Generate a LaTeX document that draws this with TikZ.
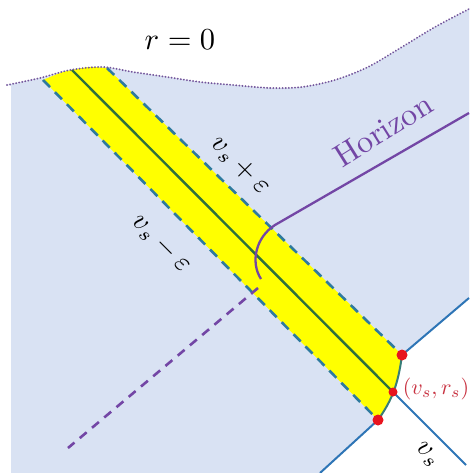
\documentclass[tikz,border=0pt]{standalone}
\definecolor{bgblue}{RGB}{217,226,243}
\definecolor{stripyellow}{RGB}{255,255,0}
\definecolor{centergreen}{RGB}{46,112,62}
\definecolor{edgeteal}{RGB}{46,122,158}
\definecolor{crossblue}{RGB}{46,117,182}
\definecolor{curveteal}{RGB}{55,125,120}
\definecolor{horpurple}{RGB}{115,70,165}
\definecolor{dotpurple}{RGB}{115,85,155}
\definecolor{dotred}{RGB}{232,20,30}
\definecolor{labelred}{RGB}{200,50,65}
\tikzset{
  edgeline/.style={edgeteal, line width=2.6pt, dash pattern=on 10pt off 7pt},
  centerline/.style={centergreen, line width=2.4pt},
  crossline/.style={crossblue, line width=2pt},
  curveline/.style={curveteal, line width=2pt},
  horline/.style={horpurple, line width=2.3pt},
  hordash/.style={horpurple, line width=2.6pt, dash pattern=on 9pt off 7pt},
  dotline/.style={dotpurple, line width=2pt, line cap=round, dash pattern=on 0.1pt off 3pt},
  reddot/.style={dotred},
  bigmath/.style={scale=3.05},
  lblmath/.style={scale=2.8, inner sep=0pt},
}
\begin{document}
\begin{tikzpicture}[x=1pt,y=-1pt]
\useasboundingbox (0,0) rectangle (469,473);
% key points
\coordinate (P1) at (402,355);
\coordinate (P2) at (393,392);
\coordinate (P3) at (378,420);
\coordinate (LT) at (43,80);
\coordinate (CT) at (72,70);
\coordinate (RT) at (107,68);
\coordinate (XR) at (469,298);
\coordinate (XL) at (320,473);
\coordinate (XD) at (466,465);
\coordinate (HR) at (469,113);
\coordinate (HK) at (275,225);
\coordinate (HE) at (261,279);
\coordinate (DS) at (258,288);
\coordinate (DE) at (68,448);
% background region
\fill[bgblue] plot[smooth] coordinates {(7,85) (40,78) (70,70) (103,67) (133,72) (167,77) (200,82) (233,85) (270,88) (302,87) (335,80) (368,67) (402,47) (435,27) (469,9)}
  -- (XR) -- (P1) .. controls (398,385) and (392,400) .. (P3) -- (XL) -- (11,473) -- (11,86) -- cycle;
% yellow strip
\fill[stripyellow] plot[smooth] coordinates {(LT) (60,73) (CT) (90,67) (RT)}
  -- (P1) .. controls (398,385) and (392,400) .. (P3) -- cycle;
% strip lines
\draw[edgeline] (LT) -- (P3);
\draw[edgeline] (RT) -- (P1);
\draw[centerline] (CT) -- (P2);
% cross lines
\draw[crossline] (P2) -- (XD);
\draw[crossline] (P1) -- (XR);
\draw[crossline] (P3) -- (XL);
\draw[curveline] (P1) .. controls (398,385) and (392,400) .. (P3);
% horizon
\draw[horline] (HR) -- (HK) .. controls (256,237) and (250,262) .. (HE);
\draw[hordash] (DS) -- (DE);
% singularity
\draw[dotline] plot[smooth] coordinates {(7,85) (40,78) (70,70) (103,67) (133,72) (167,77) (200,82) (233,85) (270,88) (302,87) (335,80) (368,67) (402,47) (435,27) (469,9)};
% dots
\fill[reddot] (P1) circle[radius=5.5pt];
\fill[reddot] (P2) circle[radius=4.5pt];
\fill[reddot] (P3) circle[radius=5.5pt];
% labels
\node[bigmath] (rzero) at (180,40) {$r = 0$};
\node[text=horpurple, rotate=32, scale=3.2] (hor) at (383,130) {Horizon};
\node[lblmath, rotate=-45] (vplus) at (240,166) {$v_s + \varepsilon$};
\node[lblmath, rotate=-45] (vminus) at (161,244) {$v_s - \varepsilon$};
\node[lblmath, rotate=-45] (vs) at (427,455) {$v_s$};
\node[text=labelred, scale=2.2, inner sep=0pt] (vsrs) at (436,389) {$(v_s,r_s)$};
\end{tikzpicture}
\end{document}
